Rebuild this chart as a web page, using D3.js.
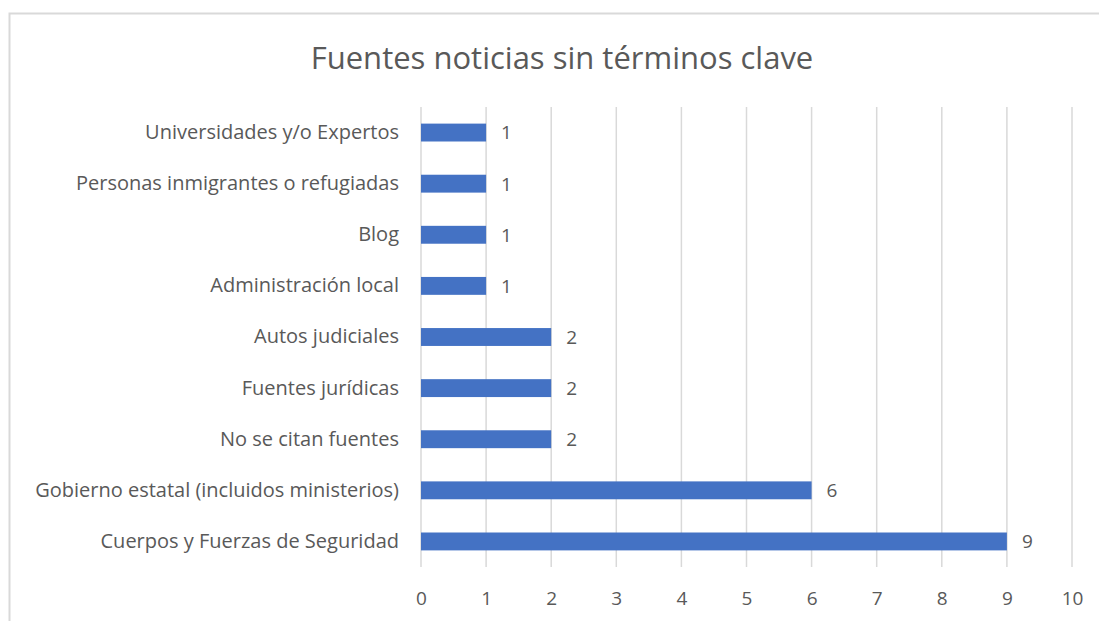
<!DOCTYPE html>
<html>
<head>
<meta charset="utf-8">
<script src="https://cdn.jsdelivr.net/npm/d3@7"></script>
<style>
  body { margin: 0; background: #fff; }
  text { font-family: "Open Sans", "Noto Sans", sans-serif; fill: #595959; }
</style>
</head>
<body>
<div id="chart"></div>
<script>
// data, top to bottom as drawn
var categories = [
  "Universidades y/o Expertos",
  "Personas inmigrantes o refugiadas",
  "Blog",
  "Administración local",
  "Autos judiciales",
  "Fuentes jurídicas",
  "No se citan fuentes",
  "Gobierno estatal (incluidos ministerios)",
  "Cuerpos y Fuerzas de Seguridad"
];
var values = [1, 1, 1, 1, 2, 2, 2, 6, 9];
var tickValues = [0, 1, 2, 3, 4, 5, 6, 7, 8, 9, 10];
var title = "Fuentes noticias sin términos clave";

var width = 1099;
var height = 621;
var margin = { top: 107, right: 27, bottom: 54, left: 421 };

var svg = d3.select("#chart")
  .append("svg")
  .attr("width", width)
  .attr("height", height);

// chart frame
svg.append("rect")
  .attr("x", 9.5)
  .attr("y", 13.5)
  .attr("width", 1200)
  .attr("height", 700)
  .attr("fill", "none")
  .attr("stroke", "#d9d9d9")
  .attr("stroke-width", 2);

svg.append("text")
  .attr("x", 562)
  .attr("y", 69)
  .attr("text-anchor", "middle")
  .attr("font-size", "31px")
  .text(title);

var x = d3.scaleLinear()
  .domain([0, 10])
  .range([margin.left, width - margin.right]);

var y = d3.scaleBand()
  .domain(categories)
  .range([margin.top, height - margin.bottom])
  .paddingInner(0.65)
  .paddingOuter(0.325);

// gridlines
svg.append("g")
  .selectAll("line")
  .data(tickValues)
  .enter()
  .append("line")
  .attr("x1", function (d) { return x(d); })
  .attr("x2", function (d) { return x(d); })
  .attr("y1", margin.top)
  .attr("y2", height - margin.bottom)
  .attr("stroke", "#d9d9d9")
  .attr("stroke-width", 1.5);

// x axis labels
var xAxis = svg.append("g")
  .attr("transform", "translate(0," + (height - margin.bottom) + ")")
  .call(d3.axisBottom(x).tickValues(tickValues).tickSize(0).tickPadding(25));
xAxis.select(".domain").remove();
xAxis.selectAll("text")
  .attr("font-size", "19px")
  .attr("font-family", "Open Sans")
  .attr("fill", "#595959");

// y axis labels
var yAxis = svg.append("g")
  .attr("transform", "translate(" + margin.left + ",0)")
  .call(d3.axisLeft(y).tickSize(0).tickPadding(22));
yAxis.select(".domain").remove();
yAxis.selectAll("text")
  .attr("font-size", "20px")
  .attr("font-family", "Open Sans")
  .attr("fill", "#595959");

// bars
svg.append("g")
  .selectAll("rect")
  .data(values)
  .enter()
  .append("rect")
  .attr("x", x(0))
  .attr("y", function (d, i) { return y(categories[i]); })
  .attr("width", function (d) { return x(d) - x(0); })
  .attr("height", y.bandwidth())
  .attr("fill", "#4472c4");

// value labels
svg.append("g")
  .selectAll("text")
  .data(values)
  .enter()
  .append("text")
  .attr("x", function (d) { return x(d) + 15; })
  .attr("y", function (d, i) { return y(categories[i]) + y.bandwidth() / 2; })
  .attr("dy", "0.36em")
  .attr("font-size", "19px")
  .text(function (d) { return d; });
</script>
</body>
</html>
